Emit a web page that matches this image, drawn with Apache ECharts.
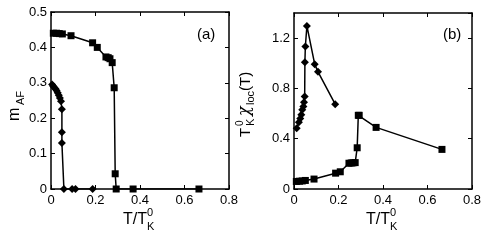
<!DOCTYPE html>
<html><head><meta charset="utf-8">
<script src="https://cdn.jsdelivr.net/npm/echarts@6/dist/echarts.min.js"></script>
<style>html,body{margin:0;padding:0;background:#fff}#c{width:486px;height:245px}</style>
</head><body><div id="c"></div>
<script>
// Panel (a): m_AF vs T/T_K^0
const aSquareT = [0.0105,0.025,0.037,0.051,0.090,0.187,0.208,0.247,0.257,0.265,0.275,0.284,0.2885,0.293,0.369,0.665];
const aSquareM = [0.440,0.440,0.439,0.438,0.433,0.413,0.400,0.373,0.371,0.368,0.357,0.286,0.043,0.0,0.0,0.0];
const aDiamondT = [0.005,0.010,0.015,0.020,0.025,0.030,0.035,0.040,0.045,0.049,0.049,0.049,0.058,0.095,0.110,0.187];
const aDiamondM = [0.295,0.290,0.287,0.283,0.278,0.272,0.265,0.257,0.248,0.225,0.160,0.130,0.0,0.0,0.0,0.0];
// Panel (b): T_K^0 chi_loc(T) vs T/T_K^0
const bSquareT = [0.0105,0.025,0.037,0.051,0.090,0.187,0.208,0.247,0.257,0.265,0.275,0.284,0.289,0.293,0.369,0.665];
const bSquareChi = [0.060,0.062,0.064,0.068,0.079,0.126,0.137,0.205,0.207,0.208,0.210,0.328,0.586,0.586,0.490,0.315];
const bDiamondT = [0.012,0.022,0.028,0.033,0.037,0.042,0.045,0.048,0.049,0.051,0.058,0.093,0.108,0.185];
const bDiamondChi = [0.483,0.530,0.560,0.590,0.630,0.657,0.690,0.735,1.008,1.134,1.297,0.993,0.932,0.675];
const xTickStep = 0.2, aTickStep = 0.1, bTickStep = 0.4;

const zip = (a,b) => a.map((v,i)=>[v,b[i]]);
const FONT = 'Liberation Sans, Arial, sans-serif';
const grids = [
  {left:51, top:12, width:178, height:177},
  {left:294, top:13, width:178, height:176}
];
function xAx(gi, pos, labels){
  return {type:'value', gridIndex:gi, position:pos, min:0, max:0.8, interval:xTickStep,
    axisLine:{show:true, onZero:false, lineStyle:{color:'#000', width:1.5}},
    axisTick:{show:true, inside:true, length:4, lineStyle:{color:'#000'}},
    axisLabel:{show:labels, color:'#000', fontFamily:FONT, fontSize:13, margin:5,
      formatter:v=> v===0?'0':String(+v.toFixed(1))},
    splitLine:{show:false}};
}
function yAx(gi, pos, labels, max, step){
  return {type:'value', gridIndex:gi, position:pos, min:0, max:max, interval:step,
    axisLine:{show:true, onZero:false, lineStyle:{color:'#000', width:1.5}},
    axisTick:{show:true, inside:true, length:4, lineStyle:{color:'#000'}},
    axisLabel:{show:labels, color:'#000', fontFamily:FONT, fontSize:13, margin:4, showMaxLabel: max===0.5,
      formatter:v=> v===0?'0':String(+v.toFixed(1))},
    splitLine:{show:false}};
}
const lineSeries = (xi, yi, data, sym, size) => ({type:'line', xAxisIndex:xi, yAxisIndex:yi, data:data,
  symbol:sym, symbolSize:size, showSymbol:true, animation:false,
  lineStyle:{color:'#000', width:1.5}, itemStyle:{color:'#000'}});

const chart = echarts.init(document.getElementById('c'), null, {renderer:'canvas'});
const T = (txt,x,y,fs,font) => ({type:'text', x:x, y:y, style:{text:txt, font: font || (fs+'px '+FONT), fill:'#000'}});
chart.setOption({
  animation:false,
  grid: grids,
  xAxis:[xAx(0,'bottom',true), xAx(0,'top',false), xAx(1,'bottom',true), xAx(1,'top',false)],
  yAxis:[yAx(0,'left',true,0.5,aTickStep), yAx(0,'right',false,0.5,aTickStep),
         yAx(1,'left',true,1.4,bTickStep), yAx(1,'right',false,1.4,bTickStep)],
  series:[
    lineSeries(0,0,zip(aSquareT,aSquareM),'rect',7),
    lineSeries(0,0,zip(aDiamondT,aDiamondM),'diamond',8),
    lineSeries(2,2,zip(bSquareT,bSquareChi),'rect',7),
    lineSeries(2,2,zip(bDiamondT,bDiamondChi),'diamond',8)
  ],
  graphic:[
    T('(a)',197,27,15),
    T('(b)',443,27,15),
    // x titles
    {type:'group', x:123, y:212, children:[
      T('T/T',0,0,16), T('0',24,-5,11), T('K',24,9,11)
    ]},
    {type:'group', x:366, y:212, children:[
      T('T/T',0,0,16), T('0',24,-5,11), T('K',24,9,11)
    ]},
    // y title (a)
    {type:'group', x:7, y:121, rotation:Math.PI/2, children:[
      T('m',0,0,16), T('AF',16,8,11)
    ]},
    // y title (b)
    {type:'group', x:238, y:137, rotation:Math.PI/2, children:[
      T('T',0,0,15), T('0',11,-3,10), T('K',11,7,11),
      T('\u03c7',21,-1,16,'italic 16px "DejaVu Serif", serif'), T('loc',32,7,11), T('(T)',46,0,15)
    ]}
  ]
});
</script></body></html>
